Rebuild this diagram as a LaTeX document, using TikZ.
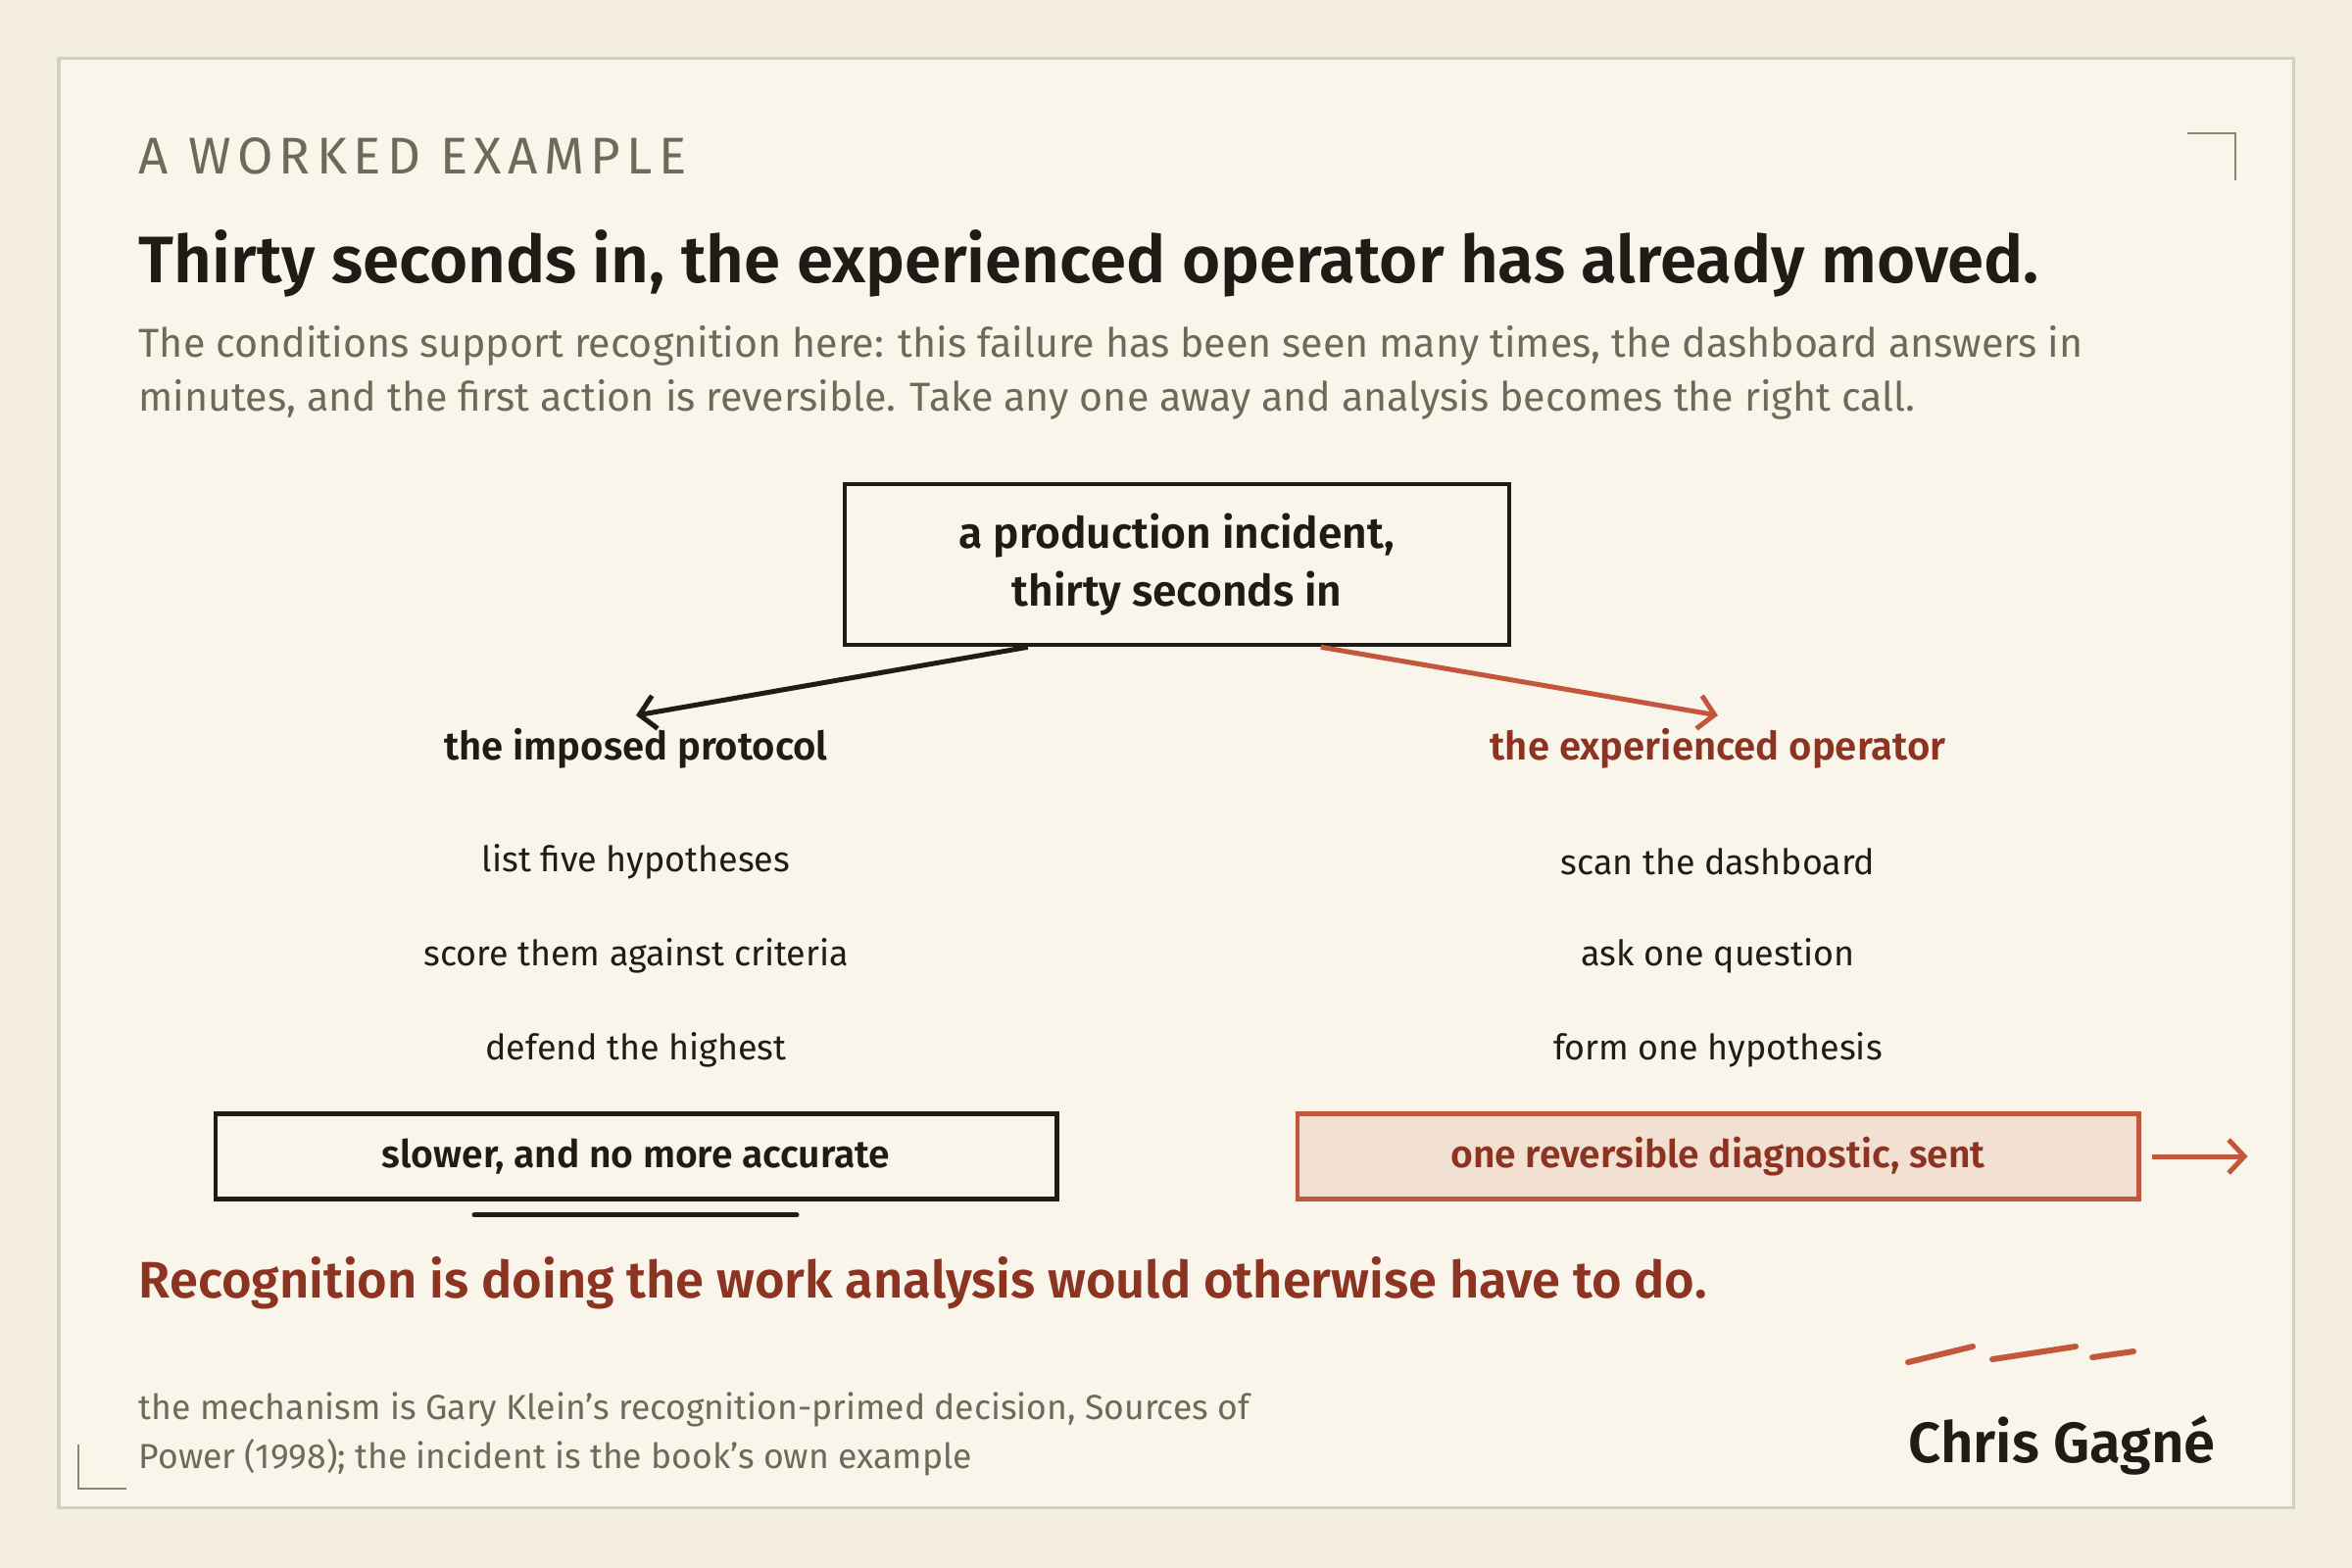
\documentclass[tikz,border=0pt]{standalone}
\usepackage{fontspec}
\setmainfont{Fira Sans}[BoldFont={Fira Sans SemiBold}]
\newfontfamily\kickerfont{Fira Sans}[LetterSpace=12]
\usetikzlibrary{arrows.meta,calc}

\definecolor{paper}{HTML}{F4EEE1}
\definecolor{card}{HTML}{FAF5EA}
\definecolor{cardline}{HTML}{D3CFC3}
\definecolor{ink}{HTML}{1F1C17}
\definecolor{muted}{HTML}{6F695A}
\definecolor{rust}{HTML}{C2573B}
\definecolor{rustdark}{HTML}{8C3421}
\definecolor{rustfill}{HTML}{F2E1D3}
\definecolor{tick}{HTML}{8C8570}

\tikzset{
  txt/.style={inner sep=0pt, anchor=base west},
  kicker/.style={txt, text=muted, font=\kickerfont\fontsize{15}{18}\selectfont},
  headline/.style={txt, text=ink, font=\bfseries\fontsize{19.1}{23}\selectfont},
  lede/.style={txt, text=muted, font=\fontsize{11.7}{15}\selectfont},
  footnote/.style={txt, text=muted, font=\fontsize{10.1}{13}\selectfont},
  incident/.style={draw=ink, line width=0.45mm, fill=card, minimum width=6.78cm,
    minimum height=1.64cm, align=center, text=ink,
    font=\bfseries\fontsize{12.6}{17}\selectfont},
  branchhead/.style={inner sep=0pt, font=\bfseries\fontsize{11.4}{14}\selectfont},
  item/.style={inner sep=0pt, text=ink, font=\fontsize{10.2}{13}\selectfont},
  outcome/.style={line width=0.45mm, minimum width=8.58cm, minimum height=0.87cm,
    font=\bfseries\fontsize{11.1}{14}\selectfont},
  pointer/.style={line width=0.5mm, -{Straight Barb[length=1.6mm,width=3.4mm,line width=0.5mm]}},
}

\begin{document}
\begin{tikzpicture}[x=0.01cm, y=-0.01cm]
  \useasboundingbox (0,0) rectangle (2400,1600);
  \fill[paper] (0,0) rectangle (2400,1600);
  \draw[cardline, fill=card, line width=0.3mm] (60,60) rectangle (2340,1538);

  % corner ticks
  \draw[tick, line width=0.25mm] (2232,136) -- (2281,136) -- (2281,184);
  \draw[tick, line width=0.25mm] (80,1474) -- (80,1519) -- (129,1519);

  % heading
  \node[kicker] (kicker) at (141,178) {A WORKED EXAMPLE};
  \node[headline] (headline) at (141,288) {Thirty seconds in, the experienced operator has already moved.};
  \node[lede] (lede1) at (141,364) {The conditions support recognition here: this failure has been seen many times, the dashboard answers in};
  \node[lede] (lede2) at (141,419) {minutes, and the first action is reversible. Take any one away and analysis becomes the right call.};

  % the incident and its two branches
  \node[incident] (incident) at (1201,576) {a production incident,\\thirty seconds in};
  \node[branchhead, text=ink] (protocol) at (649,764) {the imposed protocol};
  \node[branchhead, text=rustdark] (operator) at (1753,764) {the experienced operator};

  \draw[pointer, ink] ($(incident.south west)!0.277!(incident.south east)$) -- ($(protocol.center)+(0,-34)$);
  \draw[pointer, rust] ($(incident.south west)!0.715!(incident.south east)$) -- ($(operator.center)+(0,-34)$);

  % steps
  \node[item] (p1) at (649,879) {list five hypotheses};
  \node[item] (p2) at (649,975) {score them against criteria};
  \node[item] (p3) at (649,1071) {defend the highest};
  \node[item] (o1) at (1753,879) {scan the dashboard};
  \node[item] (o2) at (1753,975) {ask one question};
  \node[item] (o3) at (1753,1071) {form one hypothesis};

  % outcomes
  \node[outcome, draw=ink, fill=card, text=ink] (slower) at (649,1180) {slower, and no more accurate};
  \node[outcome, draw=rust, fill=rustfill, text=rustdark] (sent) at (1753,1180) {one reversible diagnostic, sent};
  \draw[ink, line width=0.5mm, line cap=round] ($(slower.south)+(-165,14)$) -- ($(slower.south)+(164,14)$);
  \draw[pointer, rust] ($(sent.east)+(11,0)$) -- ($(sent.east)+(109,0)$);

  % conclusion and footer
  \node[txt, text=rustdark, font=\bfseries\fontsize{14.9}{18}\selectfont] (verdict) at (141,1324)
    {Recognition is doing the work analysis would otherwise have to do.};
  \node[footnote] (source1) at (141,1448) {the mechanism is Gary Klein’s recognition-primed decision, Sources of};
  \node[footnote] (source2) at (141,1498) {Power (1998); the incident is the book’s own example};

  \draw[rust, line width=0.6mm, line cap=round] (1947,1390) -- (2013,1374);
  \draw[rust, line width=0.6mm, line cap=round] (2033,1387) -- (2118,1374);
  \draw[rust, line width=0.6mm, line cap=round] (2135,1385) -- (2177,1379);
  \node[txt, text=ink, font=\bfseries\fontsize{16.5}{20}\selectfont] (author) at (1947,1492) {Chris Gagné};
\end{tikzpicture}
\end{document}
